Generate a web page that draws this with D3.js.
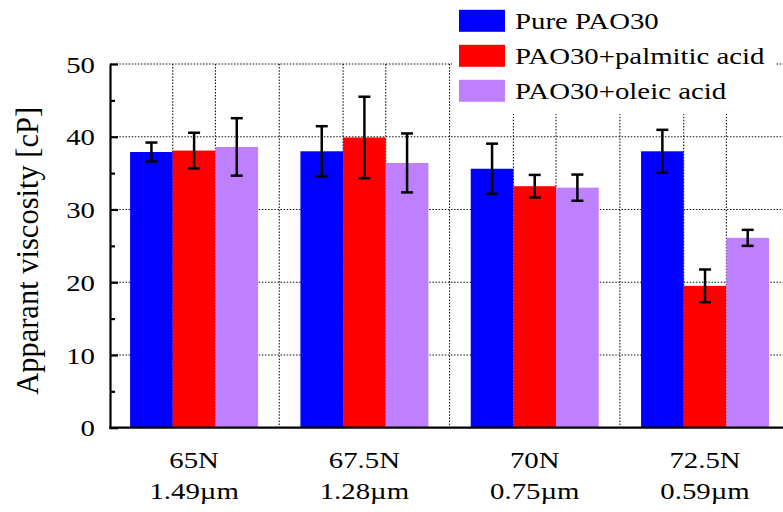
<!DOCTYPE html>
<html>
<head>
<meta charset="utf-8">
<script src="https://cdn.jsdelivr.net/npm/d3@7/dist/d3.min.js"></script>
<style>
  html, body { margin: 0; padding: 0; background: #fff; }
  svg { display: block; }
</style>
</head>
<body>
<svg id="chart" width="783" height="512"></svg>
<script>
// ---- data ----
const loads = ["65N", "67.5N", "70N", "72.5N"];
const thickness = ["1.49\u00b5m", "1.28\u00b5m", "0.75\u00b5m", "0.59\u00b5m"];
const seriesNames = ["Pure PAO30", "PAO30+palmitic acid", "PAO30+oleic acid"];
const seriesColors = ["#0000ff", "#ff0000", "#bf80ff"];
const purePAO = [37.9, 38.0, 35.6, 38.0];
const purePAOErr = [1.3, 3.45, 3.45, 2.95];
const palmitic = [38.1, 39.9, 33.2, 19.5];
const palmiticErr = [2.45, 5.6, 1.55, 2.25];
const oleic = [38.6, 36.4, 33.0, 26.1];
const oleicErr = [3.95, 4.05, 1.8, 1.1];
const yTicks = [0, 10, 20, 30, 40, 50];
const yMinorTicks = [5, 15, 25, 35, 45];
const yTitle = "Apparant viscosity [cP]";

const values = [purePAO, palmitic, oleic];
const errors = [purePAOErr, palmiticErr, oleicErr];
const rows = [];
loads.forEach((c, i) => seriesNames.forEach((s, j) => rows.push({cat: c, series: s, j, v: values[j][i], e: errors[j][i]})));

// ---- layout ----
const FONT = "'Liberation Serif', Tinos, 'Times New Roman', Times, 'DejaVu Serif', serif";
const L = 110, R = 783, T = 64, B = 427.7;
const HX = 1.2; // horizontal text stretch
const svg = d3.select("#chart");

const x = d3.scaleBand().domain(loads).range([L, R]).paddingInner(0.2485).paddingOuter(0.1).align(0.59);
const xs = d3.scaleBand().domain(seriesNames).range([0, x.bandwidth()]).padding(0);
const y = d3.scaleLinear().domain([0, 50]).range([B, T]);

// ---- grid ----
const grid = svg.append("g").attr("stroke", "#111").attr("stroke-width", 1.1).attr("stroke-dasharray", "1.5,1.6");
grid.selectAll("line.h").data(yTicks.filter(d => d > 0)).join("line")
  .attr("x1", L).attr("x2", R).attr("y1", d => y(d)).attr("y2", d => y(d));
const vx = [];
loads.forEach((c, i) => {
  if (i > 0) vx.push(x(c) - x.step() * x.paddingInner() / 2);
  seriesNames.slice(1).forEach(s => vx.push(x(c) + xs(s)));
});
grid.selectAll("line.v").data(vx).join("line")
  .attr("x1", d => d).attr("x2", d => d).attr("y1", T).attr("y2", B);

// ---- bars ----
svg.append("g").selectAll("rect").data(rows).join("rect")
  .attr("x", d => x(d.cat) + xs(d.series))
  .attr("width", xs.bandwidth())
  .attr("y", d => y(d.v))
  .attr("height", d => B - y(d.v))
  .attr("fill", d => seriesColors[d.j]);

// ---- error bars ----
const eg = svg.append("g").attr("stroke", "#000").attr("stroke-width", 2.5);
const cap = 6;
rows.forEach(d => {
  const cx = x(d.cat) + xs(d.series) + xs.bandwidth() / 2;
  eg.append("line").attr("x1", cx).attr("x2", cx).attr("y1", y(d.v + d.e)).attr("y2", y(d.v - d.e));
  eg.append("line").attr("x1", cx - cap).attr("x2", cx + cap).attr("y1", y(d.v + d.e)).attr("y2", y(d.v + d.e));
  eg.append("line").attr("x1", cx - cap).attr("x2", cx + cap).attr("y1", y(d.v - d.e)).attr("y2", y(d.v - d.e));
});

// ---- axes ----
const yAxis = svg.append("g").attr("transform", `translate(${L},0)`)
  .call(d3.axisLeft(y).tickValues(yTicks).tickSizeInner(-8).tickSizeOuter(0).tickPadding(12.5));
yAxis.attr("font-family", null).attr("font-size", null);
yAxis.select(".domain").attr("stroke-width", 2.2);
yAxis.selectAll(".tick line").attr("stroke-width", 2.2);
yAxis.selectAll(".tick text").style("font-family", FONT).style("font-size", "24px")
  .attr("fill", "#000").attr("dy", "0.34em").attr("transform", `scale(${HX},1)`);

const yMinor = svg.append("g").attr("transform", `translate(${L},0)`)
  .call(d3.axisLeft(y).tickValues(yMinorTicks).tickSizeInner(-5).tickSizeOuter(0).tickFormat(""));
yMinor.select(".domain").remove();
yMinor.selectAll(".tick line").attr("stroke-width", 2.2);

svg.append("line").attr("x1", L - 1).attr("x2", R).attr("y1", B).attr("y2", B)
  .attr("stroke", "#000").attr("stroke-width", 2.2);

const xAxis = svg.append("g").attr("transform", `translate(0,${B})`)
  .call(d3.axisBottom(x).tickSize(0).tickFormat(""));
xAxis.attr("font-family", null).attr("font-size", null);
xAxis.select(".domain").remove();
xAxis.selectAll(".tick").each(function(c, i) {
  const g = d3.select(this).append("g").attr("transform", `scale(${HX},1)`);
  g.append("text").attr("text-anchor", "middle").attr("y", 40.5).attr("fill", "#000")
    .style("font-family", FONT).style("font-size", "24px").text(c);
  g.append("text").attr("text-anchor", "middle").attr("y", 71.5).attr("fill", "#000")
    .style("font-family", FONT).style("font-size", "24px").text(thickness[i]);
});

// ---- y title ----
svg.append("text")
  .attr("transform", `translate(38,${(T + B) / 2 + 5}) rotate(-90)`)
  .attr("text-anchor", "middle").attr("fill", "#000")
  .style("font-family", FONT).style("font-size", "30.5px").text(yTitle);

// ---- legend ----
const lg = svg.append("g");
lg.append("rect").attr("x", 452).attr("y", 0).attr("width", 324).attr("height", 114).attr("fill", "#fff");
seriesNames.forEach((s, j) => {
  const by = 29.3 + j * 35;
  lg.append("rect").attr("x", 459).attr("y", by - 19.5).attr("width", 46).attr("height", 22)
    .attr("fill", seriesColors[j]);
  lg.append("text").attr("transform", `translate(515,${by}) scale(${HX},1)`).attr("fill", "#000")
    .style("font-family", FONT).style("font-size", "24px").text(s);
});
</script>
</body>
</html>
